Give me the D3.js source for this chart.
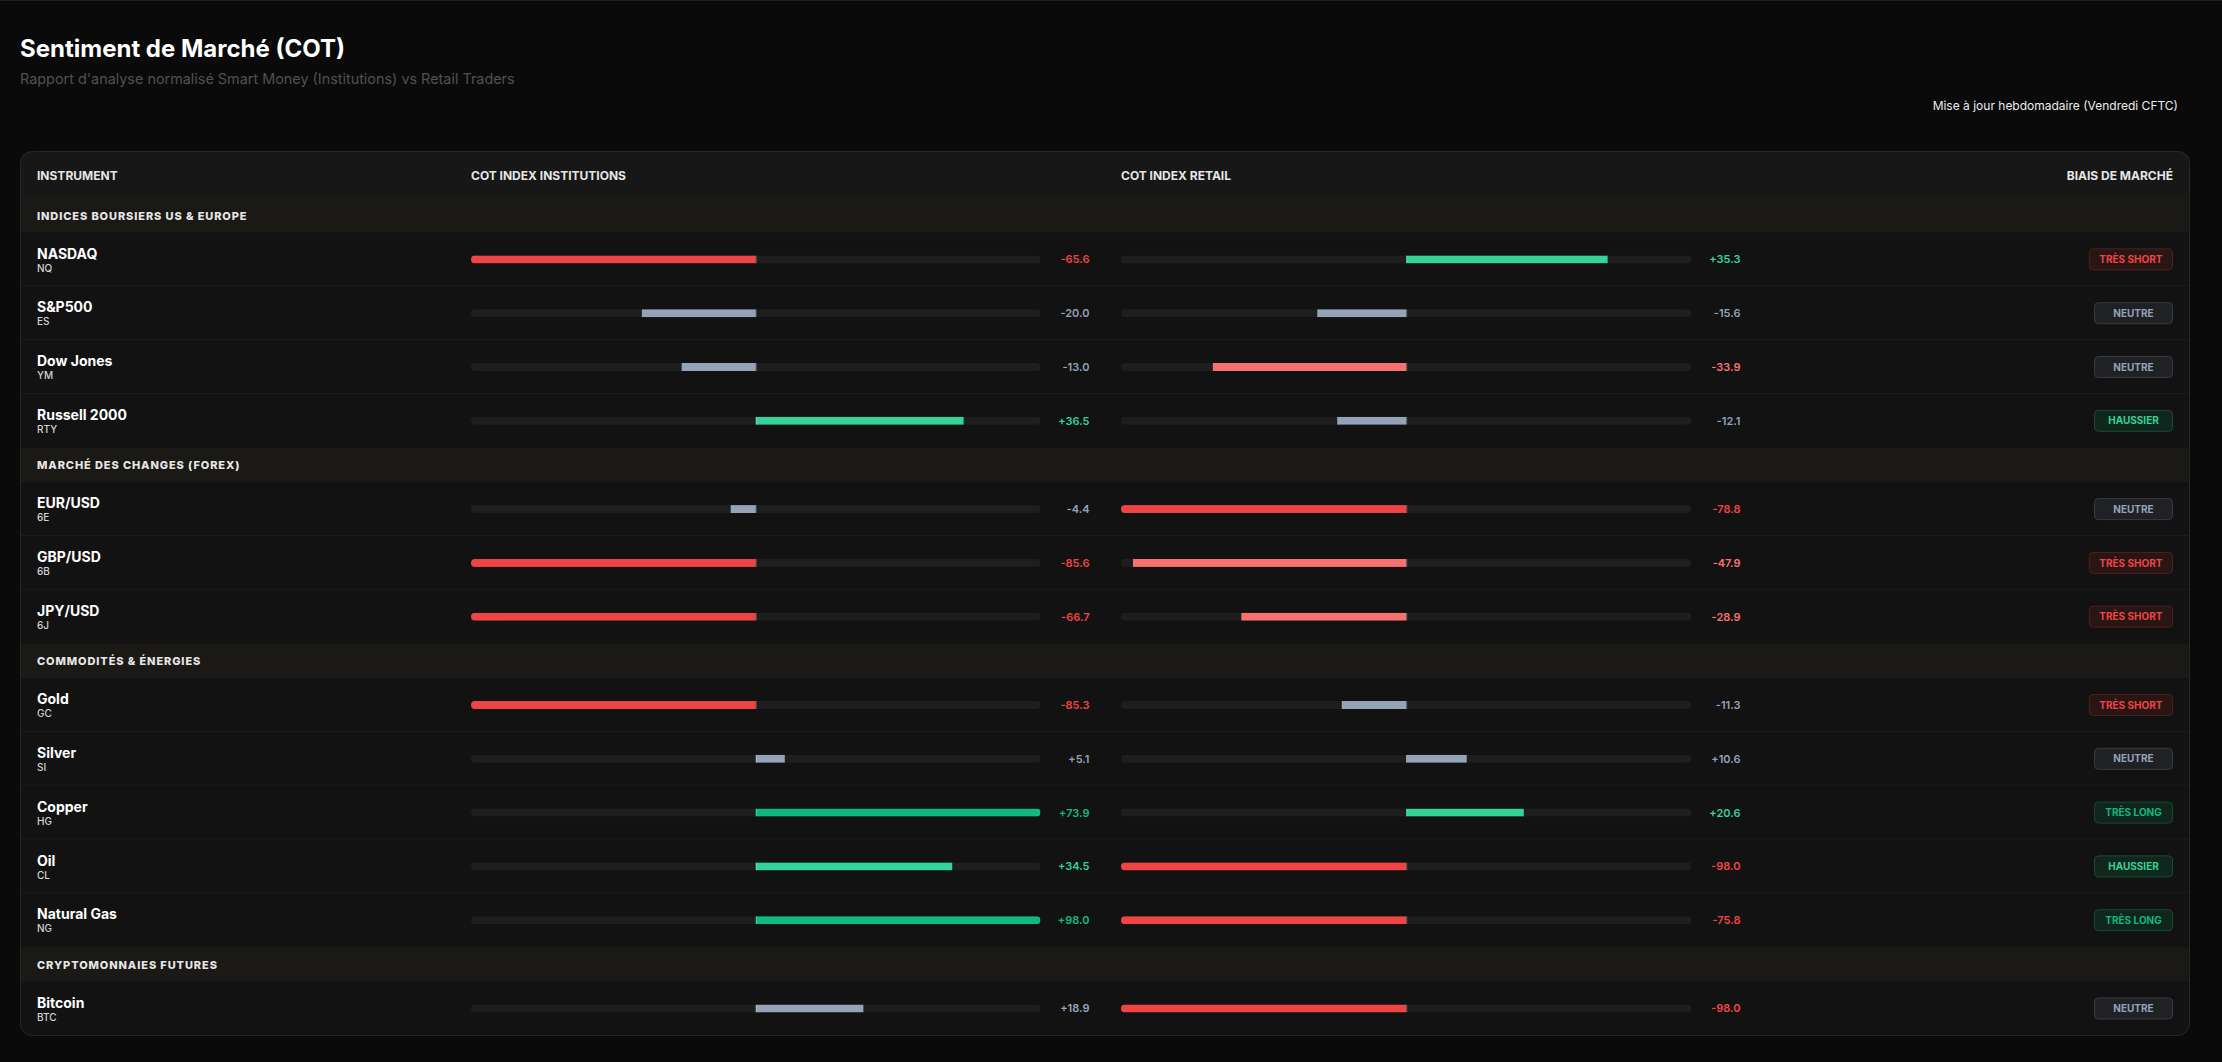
<!DOCTYPE html>
<html lang="fr">
<head>
<meta charset="utf-8">
<title>Sentiment de Marché (COT)</title>
<script src="https://cdn.jsdelivr.net/npm/d3@7"></script>
<style>
  html, body { margin: 0; padding: 0; background: #0a0a0a; }
  body { width: 2222px; height: 1062px; overflow: hidden; }
  svg { display: block; font-family: Inter, "Noto Sans", sans-serif; }
</style>
</head>
<body>
<div id="chart"></div>
<script>
// COT sentiment table: institutions vs retail, one diverging bar per column

const groups = ['INDICES BOURSIERS US & EUROPE', 'MARCHÉ DES CHANGES (FOREX)', 'COMMODITÉS & ÉNERGIES', 'CRYPTOMONNAIES FUTURES'];
const instruments = ['NASDAQ', 'S&P500', 'Dow Jones', 'Russell 2000', 'EUR/USD', 'GBP/USD', 'JPY/USD', 'Gold', 'Silver', 'Copper', 'Oil', 'Natural Gas', 'Bitcoin'];
const tickers = ['NQ', 'ES', 'YM', 'RTY', '6E', '6B', '6J', 'GC', 'SI', 'HG', 'CL', 'NG', 'BTC'];
const groupOf = [0, 0, 0, 0, 1, 1, 1, 2, 2, 2, 2, 2, 3];
const institutions = [-65.6, -20.0, -13.0, 36.5, -4.4, -85.6, -66.7, -85.3, 5.1, 73.9, 34.5, 98.0, 18.9];
const retail = [35.3, -15.6, -33.9, -12.1, -78.8, -47.9, -28.9, -11.3, 10.6, 20.6, -98.0, -75.8, -98.0];
const bias = ['TRÈS SHORT', 'NEUTRE', 'NEUTRE', 'HAUSSIER', 'NEUTRE', 'TRÈS SHORT', 'TRÈS SHORT', 'TRÈS SHORT', 'NEUTRE', 'TRÈS LONG', 'HAUSSIER', 'TRÈS LONG', 'NEUTRE'];

const W = 2222, H = 1062;
const panel = { x: 20, y: 151, w: 2170, h: 885 };
const headerH = 47, groupH = 34.5, rowH = 53.8;
const barH = 8;

const badgeStyle = {
    'TRÈS SHORT': { fill: '#2a1515', stroke: '#4f2020', text: '#ef4444' },
    'NEUTRE': { fill: '#1f2125', stroke: '#373b42', text: '#94a3b8' },
    'HAUSSIER': { fill: '#10271d', stroke: '#1c4a37', text: '#34d399' },
    'TRÈS LONG': { fill: '#0f261c', stroke: '#18473a', text: '#10b981' }
};

function barColor(v) {
    const a = Math.abs(v);
    if (a <= 20) return '#94a3b8';
    if (v > 0) return a > 50 ? '#10b981' : '#34d399';
    return a > 50 ? '#ef4444' : '#f87171';
}
const fmt = v => (v > 0 ? '+' : '') + v.toFixed(1);

// flatten groups + rows into one list, accumulating y
const items = [];
let yCursor = panel.y + headerH;
groups.forEach((g, gi) => {
    items.push({ type: 'group', label: g, y: yCursor });
    yCursor += groupH;
    instruments.forEach((name, i) => {
        if (groupOf[i] !== gi) return;
        items.push({ type: 'row', i, name, ticker: tickers[i], inst: institutions[i], ret: retail[i], bias: bias[i], y: yCursor });
        yCursor += rowH;
    });
});
const rows = items.filter(d => d.type === 'row');

const xInst = d3.scaleLinear().domain([-50, 50]).range([471, 1040.5]).clamp(true);
const xRet = d3.scaleLinear().domain([-50, 50]).range([1121, 1691.5]).clamp(true);

const svg = d3.select('#chart').append('svg').attr('width', W).attr('height', H);
svg.append('rect').attr('width', W).attr('height', 1).attr('fill', '#1f1f1f');

// titles
svg.append('text').attr('x', 20).attr('y', 57).style('fill', '#ffffff').style('font-size', '24px').style('font-weight', 700).text('Sentiment de Marché (COT)');
svg.append('text').attr('x', 20).attr('y', 84).style('fill', '#515151').style('font-size', '14.4px').text("Rapport d'analyse normalisé Smart Money (Institutions) vs Retail Traders");
svg.append('text').attr('x', 2178).attr('y', 110).attr('text-anchor', 'end').style('fill', '#ececec').style('font-size', '12px').style('font-weight', 400).text('Mise à jour hebdomadaire (Vendredi CFTC)');

// panel
const defs = svg.append('defs');
defs.append('clipPath').attr('id', 'panel-clip').append('rect')
    .attr('x', panel.x).attr('y', panel.y).attr('width', panel.w).attr('height', panel.h).attr('rx', 12);

const body = svg.append('g').attr('clip-path', 'url(#panel-clip)');
body.append('rect').attr('x', panel.x).attr('y', panel.y).attr('width', panel.w).attr('height', panel.h).attr('fill', '#121212');
body.append('rect').attr('x', panel.x).attr('y', panel.y).attr('width', panel.w).attr('height', headerH).attr('fill', '#171717');

const headY = panel.y + 29;
const headStyle = sel => sel.style('fill', '#e6e6e6').style('font-size', '12px').style('font-weight', 700);
body.append('text').attr('x', 37).attr('y', headY).call(headStyle).text('INSTRUMENT');
body.append('text').attr('x', xInst.range()[0]).attr('y', headY).call(headStyle).text('COT INDEX INSTITUTIONS');
body.append('text').attr('x', xRet.range()[0]).attr('y', headY).call(headStyle).text('COT INDEX RETAIL');
body.append('text').attr('x', 2173).attr('y', headY).attr('text-anchor', 'end').call(headStyle).text('BIAIS DE MARCHÉ');

// group bands
const groupSel = body.selectAll('g.group').data(items.filter(d => d.type === 'group')).enter()
    .append('g').attr('class', 'group').attr('transform', d => `translate(0,${d.y})`);
groupSel.append('rect').attr('x', panel.x).attr('width', panel.w).attr('height', groupH).attr('fill', '#1a1915');
groupSel.append('text').attr('x', 37).attr('y', 21.5).style('fill', '#e6e6e6').style('font-size', '11px').style('font-weight', 800).style('letter-spacing', '0.9px').text(d => d.label);

// rows
const rowSel = body.selectAll('g.row').data(rows).enter()
    .append('g').attr('class', 'row').attr('transform', d => `translate(0,${d.y})`);

rowSel.filter((d, k) => k < rows.length - 1 && items[items.indexOf(d) + 1].type === 'row')
    .append('rect').attr('x', panel.x).attr('y', rowH - 1).attr('width', panel.w).attr('height', 1).attr('fill', '#1c1c1c');

rowSel.append('text').attr('x', 37).attr('y', 26).style('fill', '#ffffff').style('font-size', '14px').style('font-weight', 700).text(d => d.name);
rowSel.append('text').attr('x', 37).attr('y', 39).style('fill', '#d4d4d4').style('font-size', '10px').style('font-weight', 500).text(d => d.ticker);

function drawBars(sel, x, key, id) {
    const [x0, x1] = x.range();
    const cy = rowH / 2 - barH / 2;
    defs.append('clipPath').attr('id', id).append('rect')
        .attr('x', x0).attr('y', 0).attr('width', x1 - x0).attr('height', barH).attr('rx', barH / 2);
    const g = sel.append('g').attr('transform', `translate(0,${cy})`).attr('clip-path', `url(#${id})`);
    g.append('rect').attr('x', x0).attr('width', x1 - x0).attr('height', barH).attr('fill', '#1e1e1e');
    g.append('rect')
        .attr('x', d => Math.min(x(d[key]), x(0)))
        .attr('width', d => Math.abs(x(d[key]) - x(0)))
        .attr('height', barH)
        .attr('fill', d => barColor(d[key]));
    g.append('rect').attr('x', x(0)).attr('width', 1).attr('height', barH).attr('fill', 'rgba(255,255,255,0.25)');
    sel.append('text')
        .attr('x', x1 + 49).attr('y', rowH / 2 + 4).attr('text-anchor', 'end')
        .style('fill', d => barColor(d[key])).style('font-size', '11px').style('font-weight', 600)
        .text(d => fmt(d[key]));
}
drawBars(rowSel, xInst, 'inst', 'track-inst');
drawBars(rowSel, xRet, 'ret', 'track-ret');

// bias badges
const badge = rowSel.append('g').attr('class', 'badge');
badge.append('text')
    .attr('y', rowH / 2 + 3.6).attr('text-anchor', 'middle')
    .style('font-size', '10px').style('font-weight', 700)
    .style('fill', d => badgeStyle[d.bias].text)
    .text(d => d.bias);
badge.each(function (d) {
    const t = d3.select(this).select('text');
    const bw = Math.max(79, t.node().getComputedTextLength() + 21);
    d3.select(this).insert('rect', 'text')
        .attr('x', 2173 - bw + 0.5).attr('y', rowH / 2 - 11 + 0.5).attr('width', bw - 1).attr('height', 21).attr('rx', 4)
        .attr('fill', badgeStyle[d.bias].fill).attr('stroke', badgeStyle[d.bias].stroke);
    t.attr('x', 2173 - bw / 2);
});

// panel border
svg.append('rect').attr('x', panel.x + 0.5).attr('y', panel.y + 0.5).attr('width', panel.w - 1).attr('height', panel.h - 1).attr('rx', 12)
    .attr('fill', 'none').attr('stroke', '#262626');
</script>
</body>
</html>
